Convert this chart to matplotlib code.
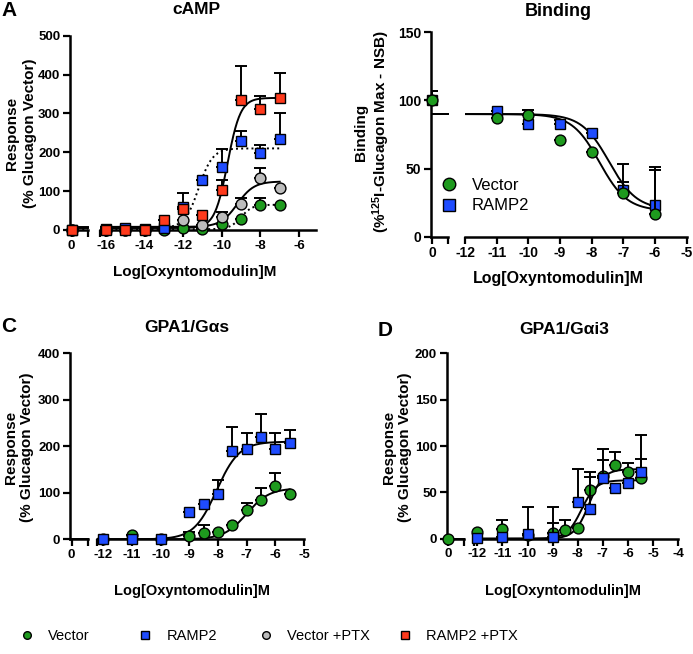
import numpy as np
import matplotlib
matplotlib.use("Agg")
import matplotlib.pyplot as plt
from matplotlib.lines import Line2D

plt.rcParams["font.family"] = ["Liberation Sans", "DejaVu Sans"]
plt.rcParams["mathtext.default"] = "regular"

W, H = 693, 654

GREEN = "#1e9a1e"
BLUE = "#1f4cff"
GRAY = "#bcbcbc"
RED = "#ff3a1c"

# ---- A: cAMP (x = 0 is vehicle)
a_x = [0, -16, -15, -14, -13, -12, -11, -10, -9, -8, -7]
a_vec = [0, 0, 0, 0, 0, 4, 3, 15, 29, 64, 64]
a_vec_err = [0, 0, 0, 0, 0, 0, 0, 0, 0, 18, 0]
a_ramp = [0, 3, 5, 3, 5, 60, 129, 161, 228, 198, 234]
a_ramp_err = [0, 0, 0, 0, 0, 36, 0, 47, 27, 21, 68]
a_vptx = [0, 0, 0, 0, 8, 27, 13, 33, 67, 133, 107]
a_vptx_err = [0, 0, 0, 0, 0, 0, 0, 14, 16, 26, 0]
a_rptx = [0, 0, 0, 0, 27, 54, 39, 103, 335, 311, 339]
a_rptx_err = [0, 0, 0, 0, 0, 0, 0, 26, 88, 33, 66]
# fitted curves: bottom, top, logEC50, hill
a_fit_vec = [2, 65, -9.0, 1.5]
a_fit_ramp = [5, 210, -11.2, 1.2]
a_fit_vptx = [8, 125, -9.2, 1.0]
a_fit_rptx = [5, 340, -9.7, 1.3]

# ---- B: Binding
b_x = [0, -11, -10, -9, -8, -7, -6]
b_vec = [100, 87, 89, 71, 62, 32, 17]
b_vec_err = [7, 0, 4, 0, 0, 8, 32]
b_ramp = [100, 92, 83, 83, 76, 34, 23]
b_ramp_err = [7, 0, 10, 3, 0, 19, 28]
b_fit_vec = [19, 90, -7.75, -1.0]
b_fit_ramp = [20, 90, -7.45, -1.0]

# ---- C: GPA1/Gas
c_x = [-12, -11, -10, -9, -8.5, -8, -7.5, -7, -6.5, -6, -5.5]
c_vec = [0, 9, 0, 7, 13, 16, 31, 63, 85, 115, 97]
c_vec_err = [0, 0, 0, 8, 18, 0, 0, 16, 25, 27, 0]
c_ramp = [0, 0, 0, 59, 75, 97, 190, 195, 221, 195, 208]
c_ramp_err = [0, 0, 0, 0, 0, 30, 52, 33, 48, 34, 27]
c_fit_vec = [0, 110, -7.0, 1.1]
c_fit_ramp = [0, 210, -8.05, 1.1]

# ---- D: GPA1/Gai3
d_x_vec = [0, -12, -11, -10, -9, -8.5, -8, -7.5, -7, -6.5, -6, -5.5]
d_vec = [0, 7.5, 10, 4, 6, 9, 12, 53, 68, 79.5, 72, 66]
d_vec_err = [0, 0, 10, 0, 11, 11, 0, 19, 29, 13.5, 10, 20]
d_x_ramp = [-12, -11, -10, -9, -8, -7.5, -7, -6.5, -6, -5.5]
d_ramp = [1, 2, 5, 2, 40, 32, 66, 55, 60, 72]
d_ramp_err = [0, 0, 29.5, 32, 35, 35, 19, 0, 0, 40]
d_fit_vec = [0, 75, -7.55, 1.5]
d_fit_ramp = [0, 63, -7.85, 1.5]


def sigmoid(x, bottom, top, logec50, hill):
    return bottom + (top - bottom) / (1 + 10 ** (hill * (logec50 - x)))


def px_rect(left, right, top, bottom):
    return [left / W, 1 - bottom / H, (right - left) / W, (bottom - top) / H]


fig = plt.figure(figsize=(W / 100, H / 100), dpi=100)


def style(ax, fs, left):
    ax.spines["top"].set_visible(False)
    ax.spines["right"].set_visible(False)
    ax.spines["left"].set_visible(left)
    ax.spines["left"].set_linewidth(1.8)
    ax.spines["bottom"].set_linewidth(1.8)
    ax.tick_params(direction="out", length=5, width=1.6, labelsize=fs, pad=2)
    if not left:
        ax.tick_params(axis="y", left=False, labelleft=False)
    ax.patch.set_visible(False)


def make_panel(yax, seg_end, main_l, main_r, top, bottom, ylim, ystep, xlim, xticks, fs):
    ax0 = fig.add_axes(px_rect(yax, seg_end, top, bottom))
    ax1 = fig.add_axes(px_rect(main_l, main_r, top, bottom), sharey=ax0)
    style(ax0, fs, True)
    style(ax1, fs, False)
    ax0.set_ylim(*ylim)
    ax0.set_yticks(np.arange(ylim[0], ylim[1] + 1, ystep))
    ax0.set_xlim(-0.1, 1.0)
    ax0.set_xticks([0, 1.0])
    ax0.set_xticklabels(["0", ""])
    ax1.set_xlim(*xlim)
    ticks = list(xticks)
    labels = [str(t) for t in xticks]
    if xlim[0] < xticks[0] - 0.01:
        ticks = [xlim[0]] + ticks
        labels = [""] + labels
    ax1.set_xticks(ticks)
    ax1.set_xticklabels(labels)
    for lab in ax0.get_xticklabels() + ax0.get_yticklabels() + ax1.get_xticklabels():
        lab.set_fontweight("bold")
    return ax0, ax1


def draw_series(ax0, ax1, x, y, err, color, marker, fit, ls, z):
    x = np.asarray(x, float)
    y = np.asarray(y, float)
    err = np.asarray(err, float)
    zero = x == 0
    xs = np.linspace(ax1.get_xlim()[0], x[~zero].max(), 300)
    ax1.plot(xs, sigmoid(xs, *fit), color="black", lw=1.4, ls=ls, zorder=2)
    start = sigmoid(xs[0], *fit)
    ax0.plot([0, 1.0], [start, start], color="black", lw=1.4, ls=ls, zorder=2,
             clip_on=False)
    for ax, m in ((ax0, zero), (ax1, ~zero)):
        if not m.any():
            continue
        ax.errorbar(x[m], y[m], yerr=[np.zeros(m.sum()), err[m]], fmt="none",
                    ecolor="black", elinewidth=1.4, capsize=4.5, capthick=1.4,
                    zorder=z)
        ax.plot(x[m], y[m], ls="none", marker=marker, ms=7.8 if marker == "o" else 7.4,
                mfc=color, mec="black", mew=1.0, zorder=z + 0.5, clip_on=False)


# ---------------- panel A
a0, a1 = make_panel(70, 88, 100, 316, 35.7, 230, (0, 500), 100, (-16.31, -5.12),
                    range(-16, -5, 2), 9.5)
draw_series(a0, a1, a_x, a_vec, a_vec_err, GREEN, "o", a_fit_vec, ":", 3)
draw_series(a0, a1, a_x, a_vptx, a_vptx_err, GRAY, "o", a_fit_vptx, "-", 4)
draw_series(a0, a1, a_x, a_ramp, a_ramp_err, BLUE, "s", a_fit_ramp, ":", 5)
draw_series(a0, a1, a_x, a_rptx, a_rptx_err, RED, "s", a_fit_rptx, "-", 6)

# ---------------- panel B
b0, b1 = make_panel(430.7, 448.3, 465, 686.7, 32.3, 236.7, (0, 150), 50, (-12, -5),
                    range(-12, -4), 10)
draw_series(b0, b1, b_x, b_ramp, b_ramp_err, BLUE, "s", b_fit_ramp, "-", 3)
draw_series(b0, b1, b_x, b_vec, b_vec_err, GREEN, "o", b_fit_vec, "-", 4)
b_handles = [
    Line2D([], [], ls="none", marker="o", ms=9, mfc=GREEN, mec="black", mew=1.0),
    Line2D([], [], ls="none", marker="s", ms=8.5, mfc=BLUE, mec="black", mew=1.0),
]
fig.legend(b_handles, ["Vector", "RAMP2"], loc="center left",
           bbox_to_anchor=(441 / W, 1 - 195.5 / H), frameon=False, fontsize=12,
           handlelength=1.0, handletextpad=0.85, labelspacing=0.35, borderpad=0,
           borderaxespad=0)

# ---------------- panel C
c0, c1 = make_panel(70, 87.7, 97, 304, 353.3, 539.3, (0, 400), 100, (-12.22, -5),
                    range(-12, -4), 9.5)
draw_series(c0, c1, c_x, c_vec, c_vec_err, GREEN, "o", c_fit_vec, "-", 3)
draw_series(c0, c1, c_x, c_ramp, c_ramp_err, BLUE, "s", c_fit_ramp, "-", 4)

# ---------------- panel D
d0, d1 = make_panel(446.7, 464, 474, 678.3, 353.3, 538.7, (0, 200), 50, (-12.13, -4),
                    range(-12, -3), 9.5)
draw_series(d0, d1, d_x_vec, d_vec, d_vec_err, GREEN, "o", d_fit_vec, "-", 3)
draw_series(d0, d1, d_x_ramp, d_ramp, d_ramp_err, BLUE, "s", d_fit_ramp, "-", 4)

# ---------------- texts
def ftext(x, y, s, **kw):
    fig.text(x / W, 1 - y / H, s, ha="center", va="center", **kw)


ftext(9, 11, "A", fontsize=15, fontweight="bold")
ftext(9, 326, "C", fontsize=15, fontweight="bold")
ftext(385, 331, "D", fontsize=15, fontweight="bold")

ftext(196, 10, "cAMP", fontsize=12.5, fontweight="bold")
ftext(558, 11, "Binding", fontsize=13, fontweight="bold")
ftext(187, 327, "GPA1/G\u03b1s", fontsize=12.5, fontweight="bold")
ftext(564, 330, "GPA1/G\u03b1i3", fontsize=12.5, fontweight="bold")

xl = "Log[Oxyntomodulin]M"
ftext(195, 272, xl, fontsize=11, fontweight="bold")
ftext(558, 278, xl, fontsize=11.5, fontweight="bold")
ftext(192, 591, xl, fontsize=10.5, fontweight="bold")
ftext(563, 591, xl, fontsize=10.5, fontweight="bold")

ftext(21, 133, "Response\n(% Glucagon Vector)", fontsize=11, fontweight="bold",
      rotation=90, linespacing=1.35)
ftext(373, 132, "Binding\n(%$^{125}$I-Glucagon Max - NSB)", fontsize=11,
      fontweight="bold", rotation=90, linespacing=1.1)
ftext(19, 447, "Response\n(% Glucagon Vector)", fontsize=11, fontweight="bold",
      rotation=90, linespacing=1.15)
ftext(397, 447, "Response\n(% Glucagon Vector)", fontsize=11, fontweight="bold",
      rotation=90, linespacing=1.15)

# ---------------- bottom legend
leg_names = ["Vector", "RAMP2", "Vector +PTX", "RAMP2 +PTX"]
leg_colors = [GREEN, BLUE, GRAY, RED]
leg_markers = ["o", "s", "o", "s"]
leg_pos = [27, 145, 266, 405]
for name, col, mk, xc in zip(leg_names, leg_colors, leg_markers, leg_pos):
    h = Line2D([], [], ls="none", marker=mk, ms=5.5, mfc=col, mec="black", mew=1.0)
    fig.legend([h], [name], loc="center left",
               bbox_to_anchor=((xc - 7) / W, 1 - 636 / H), frameon=False,
               fontsize=10.5, handlelength=1.0, handletextpad=0.95, borderpad=0,
               borderaxespad=0)

fig.savefig("out.png", dpi=100)
